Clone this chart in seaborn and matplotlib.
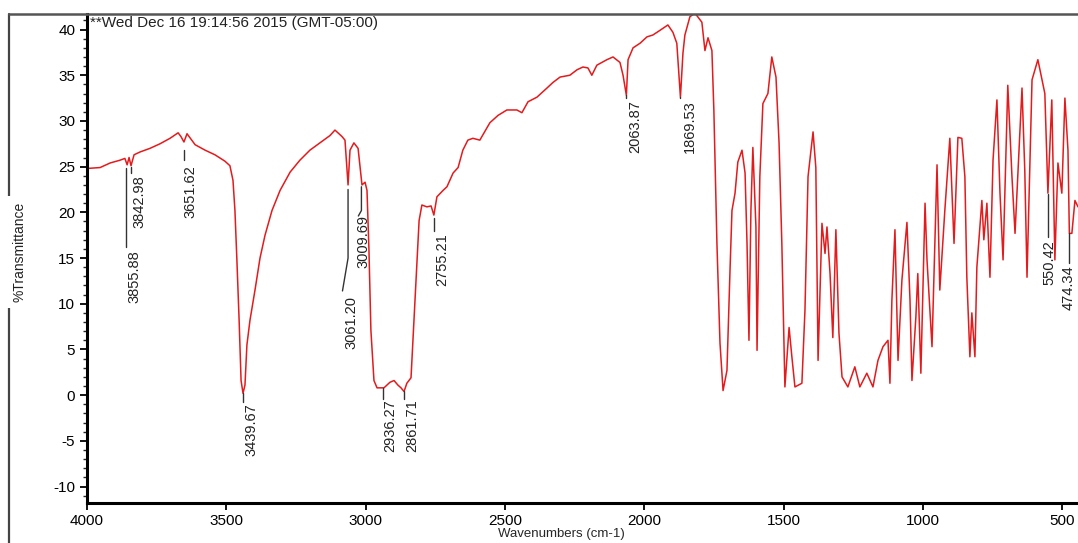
import matplotlib
matplotlib.use("Agg")
import matplotlib.pyplot as plt
from matplotlib.lines import Line2D
from matplotlib.ticker import MultipleLocator
import seaborn as sns
import pandas as pd

# ---- spectrum data ----
wavenumber = [
    4000, 3953, 3917, 3882, 3864, 3856, 3849, 3842, 3831, 3810, 3774, 3738, 3702, 3673, 3663, 3652,
    3641, 3612, 3576, 3541, 3505, 3487, 3476, 3469, 3462, 3454, 3447, 3440, 3433, 3426, 3415, 3397,
    3379, 3361, 3336, 3307, 3271, 3236, 3200, 3164, 3128, 3110, 3085, 3074, 3063, 3056, 3042, 3027,
    3013, 3002, 2995, 2988, 2981, 2970, 2959, 2934, 2913, 2898, 2884, 2873, 2862, 2852, 2837, 2830,
    2819, 2808, 2798, 2780, 2765, 2755, 2744, 2722, 2708, 2686, 2668, 2651, 2633, 2615, 2590, 2554,
    2525, 2493, 2457, 2439, 2417, 2385, 2349, 2328, 2302, 2267, 2241, 2220, 2202, 2188, 2170, 2134,
    2112, 2087, 2076, 2064, 2058, 2040, 2015, 1990, 1969, 1944, 1915, 1897, 1883, 1870, 1861, 1854,
    1836, 1818, 1793, 1782, 1771, 1757, 1750, 1739, 1728, 1717, 1703, 1692, 1685, 1674, 1664, 1649,
    1638, 1631, 1624, 1617, 1610, 1599, 1595, 1585, 1574, 1556, 1542, 1527, 1516, 1506, 1495, 1480,
    1470, 1459, 1434, 1423, 1412, 1394, 1384, 1376, 1362, 1351, 1344, 1333, 1323, 1312, 1301, 1290,
    1269, 1244, 1226, 1201, 1179, 1161, 1143, 1125, 1118, 1111, 1100, 1089, 1075, 1057, 1046, 1039,
    1025, 1018, 1007, 992, 985, 967, 949, 939, 921, 903, 888, 874, 860, 849, 842, 831,
    824, 813, 806, 788, 781, 770, 759, 748, 734, 723, 712, 695, 680, 669, 644, 634,
    626, 608, 587, 562, 551, 537, 526, 515, 501, 490, 479, 474, 465, 454, 443,
]
transmittance = [
    24.8, 24.9, 25.4, 25.7, 25.9, 25.2, 26.0, 25.1, 26.3, 26.6, 27.0, 27.5, 28.1, 28.7, 28.3, 27.7,
    28.6, 27.4, 26.8, 26.3, 25.6, 25.1, 23.5, 20.2, 14.8, 8.2, 1.6, 0.2, 1.1, 5.5, 8.2, 11.5,
    15.0, 17.5, 20.2, 22.4, 24.4, 25.7, 26.8, 27.6, 28.4, 29.0, 28.3, 27.9, 23.0, 26.8, 27.6, 27.0,
    23.0, 23.3, 22.4, 15.9, 7.1, 1.6, 0.8, 0.8, 1.4, 1.6, 1.1, 0.8, 0.4, 1.3, 1.9, 6.0,
    12.6, 19.1, 20.8, 20.6, 20.7, 19.7, 21.7, 22.4, 22.8, 24.3, 24.9, 26.8, 27.9, 28.1, 27.9, 29.8,
    30.6, 31.2, 31.2, 30.9, 32.1, 32.6, 33.6, 34.2, 34.8, 35.0, 35.6, 35.9, 35.8, 35.0, 36.1, 36.7,
    37.0, 36.4, 35.0, 32.8, 36.7, 38.0, 38.5, 39.2, 39.4, 39.9, 40.5, 39.7, 38.5, 32.6, 37.4, 39.4,
    41.4, 41.8, 40.8, 37.7, 39.1, 37.7, 31.2, 16.6, 5.7, 0.5, 2.7, 13.7, 20.2, 22.1, 25.5, 26.8,
    24.3, 16.6, 6.0, 20.2, 27.1, 18.4, 4.9, 23.9, 31.9, 33.0, 37.0, 34.8, 27.6, 16.6, 0.9, 7.4,
    4.2, 0.9, 1.3, 9.3, 23.9, 28.8, 24.9, 3.8, 18.8, 15.5, 18.4, 13.3, 6.3, 18.1, 6.8, 2.0,
    0.9, 3.1, 0.9, 2.4, 0.9, 3.8, 5.3, 6.0, 1.3, 10.4, 18.1, 3.8, 12.6, 18.9, 10.4, 1.6,
    8.5, 13.3, 2.4, 21.0, 14.8, 5.3, 25.2, 11.5, 20.2, 28.1, 16.6, 28.2, 28.1, 23.9, 12.9, 4.2,
    9.0, 4.2, 14.0, 21.3, 17.0, 21.0, 12.9, 25.7, 32.3, 22.1, 14.8, 33.9, 23.9, 17.7, 33.6, 24.6,
    12.9, 34.5, 36.7, 33.0, 22.1, 32.3, 14.8, 25.4, 22.1, 32.5, 26.8, 17.7, 17.7, 21.3, 20.6,
]

# ---- peak labels ----
peak_labels = ["3855.88", "3842.98", "3651.62", "3439.67", "3061.20", "3009.69", "2936.27",
               "2861.71", "2755.21", "2063.87", "1869.53", "550.42", "474.34"]
label_x = [3831, 3810, 3630, 3408, 3052, 3009, 2913, 2834, 2726, 2033, 1836, 546, 478]
label_top = [15.9, 24.1, 25.2, -0.9, 10.9, 19.7, -0.5, -0.5, 17.7, 32.3, 32.3, 17.0, 14.2]
leader_x = [[3860, 3860], [3843, 3843], [3652, 3652], [3440, 3440], [3063, 3063, 3083],
            [3015, 3015, 3026], [2936, 2936], [2862, 2862], [2755, 2755], [2064, 2064],
            [1870, 1870], [551, 551], [474, 474]]
leader_y = [[24.9, 16.2], [25.0, 24.3], [26.8, 25.7], [0.2, -0.8], [22.5, 15.0, 11.4],
            [22.8, 20.2, 19.6], [0.8, -0.4], [0.4, -0.4], [19.4, 18.0], [32.8, 32.5],
            [32.6, 32.5], [22.0, 17.3], [17.7, 14.5]]

timestamp = "**Wed Dec 16 19:14:56 2015 (GMT-05:00)"

df = pd.DataFrame({"Wavenumber": wavenumber, "T": transmittance})

sns.set_style("ticks")
plt.rcParams["font.family"] = ["Liberation Sans", "DejaVu Sans"]
plt.rcParams["axes.unicode_minus"] = False

W, H = 1078, 543
fig = plt.figure(figsize=(W / 100, H / 100), dpi=100)
ax = fig.add_axes([87 / W, 40 / H, 991 / W, 489 / H])

sns.lineplot(data=df, x="Wavenumber", y="T", sort=False, estimator=None,
             color="#e41a1c", linewidth=1.1, ax=ax)

ax.set_xlim(4000, 443)
ax.set_ylim(-11.8, 41.7)
ax.set_xticks([4000, 3500, 3000, 2500, 2000, 1500, 1000, 500])
ax.set_yticks(list(range(-10, 41, 5)))
ax.yaxis.set_minor_locator(MultipleLocator(1))
ax.tick_params(axis="both", which="major", labelsize=11, length=5, width=1.3,
               direction="out", colors="black")
ax.tick_params(axis="y", which="minor", length=3, width=1.0)
ax.tick_params(axis="x", pad=3)

for s in ["left", "bottom"]:
    ax.spines[s].set_linewidth(2.2)
    ax.spines[s].set_color("black")
ax.spines["top"].set_visible(True)
ax.spines["top"].set_linewidth(1.8)
ax.spines["top"].set_color("#555555")
ax.spines["right"].set_visible(False)

ax.set_xlabel("Wavenumbers (cm-1)", fontsize=9.5)
ax.xaxis.set_label_coords((561 - 87) / 991, -(528 - 503) / 489)
ax.set_ylabel("")

# peak annotations
for lab, tx, ty, lx, ly in zip(peak_labels, label_x, label_top, leader_x, leader_y):
    ax.plot(lx, ly, color="#333333", lw=1.0)
    ax.text(tx, ty, lab, rotation=90, ha="center", va="top", fontsize=10.5, color="#222222")

ax.text(0.003, 0.995, timestamp, transform=ax.transAxes, ha="left", va="top",
        fontsize=11, color="#222222")

# outer frame and y-label
fig.add_artist(Line2D([9 / W, 9 / W], [0, 1 - 14 / H], transform=fig.transFigure,
                      color="#444444", lw=1.6))
fig.add_artist(Line2D([9 / W, 87 / W], [1 - 14 / H, 1 - 14 / H], transform=fig.transFigure,
                      color="#555555", lw=1.8))
fig.text(20 / W, 1 - 252 / H, "%Transmittance", rotation=90, ha="center", va="center",
         fontsize=10, color="#222222",
         bbox=dict(facecolor="white", edgecolor="none", pad=4))

fig.savefig("out.png", dpi=100)
